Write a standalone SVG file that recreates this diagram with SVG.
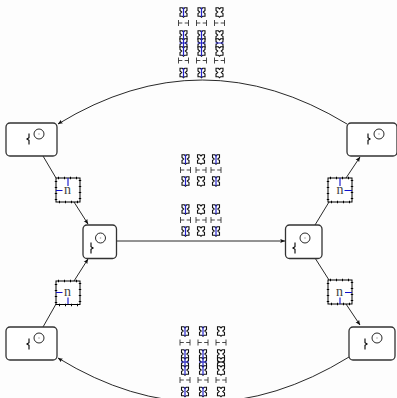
<svg xmlns="http://www.w3.org/2000/svg" width="397" height="398" viewBox="0 0 397 398">
<style>
.node{fill:#fff;stroke:#333;stroke-width:1.3}
.c{fill:#fff;stroke:#111;stroke-width:.9}
.d{fill:#aaa}
.g{fill:none;stroke:#000;stroke-width:1.100}
.e{fill:none;stroke:#111;stroke-width:.9}
.b{fill:#fff;stroke:#000;stroke-width:1}
.t{fill:none;stroke:#000;stroke-width:2.400;stroke-dasharray:1 5;stroke-dashoffset:-2}
.bl{fill:none;stroke:#11c;stroke-width:1.100}
.n{font:14px "Liberation Serif",serif;fill:#444;text-anchor:middle}
.i{fill:#fff;stroke:#111;stroke-width:1.100}
.v{fill:none;stroke:#22c;stroke-width:1.200}
.hg{fill:none;stroke:#333;stroke-width:.9}
</style>
<defs>
<marker id="a" viewBox="0 0 5 5" refX="4.800" refY="2.500" markerWidth="5" markerHeight="5" orient="auto" markerUnits="userSpaceOnUse"><path d="M0 .4L5 2.500L0 4.600L1 2.500z" fill="#111"/></marker>
<path id="ic" class="i" d="M-3.500-4.200H-1.200L0-3L1.200-4.200H3.500V-1.500L1.800 0L3.500 1.500V4.200H1.200L0 5.200L-1.200 4.200H-3.500V1.500L-1.800 0L-3.500-1.500z"/>
<g id="ib"><use href="#ic"/><path class="v" d="M0-4.500V5"/></g>
<path id="h" class="hg" d="M-5-3V3M5-3V3M-5 0H-1.200M1.200 0H5"/>
<path id="gl" class="g" d="M0-5.500V-1.200L-2 0L0 1.200V5.500"/>
<path id="gr" class="g" d="M0-5.500V-1.200L2 0L0 1.200V5.500"/>
<g id="sun"><circle class="c" r="5"/><circle class="d" r=".8"/></g>
<path id="nb" class="t" d="M0 0H24V24H0z"/>
</defs>
<rect width="397" height="398" fill="#fdfdfd"/>
<g id="connectors">
<path class="e" d="M43 156L56 178"/>
<path class="e" d="M74 202L88 224" marker-end="url(#a)"/>
<path class="e" d="M43 327L56 304"/>
<path class="e" d="M74 281L88 259" marker-end="url(#a)"/>
<path class="e" d="M116.500 241H285" marker-end="url(#a)"/>
<path class="e" d="M315 225L329 202"/>
<path class="e" d="M346 178L360 157" marker-end="url(#a)"/>
<path class="e" d="M315 258L329 280"/>
<path class="e" d="M346 304L360 325" marker-end="url(#a)"/>
<path class="e" d="M347 124Q202 36 58 124" marker-end="url(#a)"/>
<path class="e" d="M349 357Q203 447 58 358" marker-end="url(#a)"/>
</g>
<g id="node-tl"><rect class="node" x="6" y="123" width="51" height="33" rx="4"/><use href="#sun" x="39" y="134"/><use href="#gl" x="29" y="139"/></g>
<g id="node-cl"><rect class="node" x="83" y="225" width="33.500" height="33.500" rx="4"/><use href="#sun" x="100.500" y="238"/><use href="#gr" x="91" y="248"/></g>
<g id="node-bl"><rect class="node" x="6" y="327" width="51" height="33" rx="4"/><use href="#sun" x="39" y="338"/><use href="#gl" x="29" y="344"/></g>
<g id="node-tr"><rect class="node" x="347" y="123" width="50" height="33" rx="4"/><use href="#sun" x="379" y="134"/><use href="#gr" x="368" y="139"/></g>
<g id="node-cr"><rect class="node" x="285.500" y="225" width="36.500" height="33.500" rx="4"/><use href="#sun" x="305" y="238"/><use href="#gl" x="295" y="248"/></g>
<g id="node-br"><rect class="node" x="349" y="327" width="46" height="33" rx="4"/><use href="#sun" x="377" y="338"/><use href="#gr" x="365" y="344"/></g>
<g id="box-tl"><rect class="b" x="56" y="178" width="24" height="24"/><use href="#nb" x="56" y="178"/><path class="bl" d="M68 178V186M56 190.500H62.500"/><text class="n" x="67.500" y="194">n</text></g>
<g id="box-bl"><rect class="b" x="56" y="281" width="24" height="23.500"/><use href="#nb" x="56" y="281"/><path class="bl" d="M68 297.500V304M56 292.500H62.500"/><text class="n" x="67.500" y="296">n</text></g>
<g id="box-tr"><rect class="b" x="328" y="178" width="24" height="24"/><use href="#nb" x="328" y="178"/><path class="bl" d="M340 178V186M344.500 190.500H352"/><text class="n" x="340" y="194">n</text></g>
<g id="box-br"><rect class="b" x="328" y="280" width="24" height="24"/><use href="#nb" x="328" y="280"/><path class="bl" d="M340 297.500V304M345 292.500H352"/><text class="n" x="339.500" y="296">n</text></g>
<g id="cluster-top">
<use href="#ib" x="183.500" y="12"/><use href="#ib" x="201.500" y="12"/><use href="#ic" x="219.500" y="12"/>
<use href="#h" x="183.500" y="23"/><use href="#h" x="201.500" y="23"/><use href="#h" x="219.500" y="23"/>
<use href="#ib" x="183.500" y="35"/><use href="#ib" x="201.500" y="35"/><use href="#ic" x="219.500" y="35"/>
<use href="#ib" x="183.500" y="43"/><use href="#ib" x="201.500" y="43"/><use href="#ic" x="219.500" y="43"/>
<use href="#ib" x="183.500" y="51"/><use href="#ib" x="201.500" y="51"/><use href="#ic" x="219.500" y="51"/>
<path class="v" d="M179.500 43H187.500M197.500 43H205.500M215.500 43H223.500"/>
<use href="#h" x="183.500" y="60.500"/><use href="#h" x="201.500" y="60.500"/><use href="#h" x="219.500" y="60.500"/>
<use href="#ib" x="183.500" y="72.500"/><use href="#ib" x="201.500" y="72.500"/><use href="#ic" x="219.500" y="72.500"/>
</g>
<g id="cluster-mid">
<use href="#ib" x="185.500" y="159"/><use href="#ic" x="201" y="159"/><use href="#ib" x="216" y="159"/>
<use href="#h" x="185.500" y="170"/><use href="#h" x="201" y="170"/><use href="#h" x="216" y="170"/>
<use href="#ib" x="185.500" y="181"/><use href="#ic" x="201" y="181"/><use href="#ib" x="216" y="181"/>
<use href="#ib" x="185.500" y="209"/><use href="#ic" x="201" y="209"/><use href="#ib" x="216" y="209"/>
<use href="#h" x="185.500" y="220"/><use href="#h" x="201" y="220"/><use href="#h" x="216" y="220"/>
<use href="#ib" x="185.500" y="231"/><use href="#ic" x="201" y="231"/><use href="#ib" x="216" y="231"/>
</g>
<g id="cluster-bottom">
<use href="#ib" x="185" y="331"/><use href="#ib" x="203" y="331"/><use href="#ic" x="221" y="331"/>
<use href="#h" x="185" y="342.500"/><use href="#h" x="203" y="342.500"/><use href="#h" x="221" y="342.500"/>
<use href="#ib" x="185" y="354"/><use href="#ib" x="203" y="354"/><use href="#ic" x="221" y="354"/>
<use href="#ib" x="185" y="362"/><use href="#ib" x="203" y="362"/><use href="#ic" x="221" y="362"/>
<use href="#ib" x="185" y="370"/><use href="#ib" x="203" y="370"/><use href="#ic" x="221" y="370"/>
<path class="v" d="M181 362H189M199 362H207"/><path class="g" d="M217 362H225"/>
<use href="#h" x="185" y="380"/><use href="#h" x="203" y="380"/><use href="#h" x="221" y="380"/>
<use href="#ib" x="185" y="391.500"/><use href="#ib" x="203" y="391.500"/><use href="#ic" x="221" y="391.500"/>
</g>
</svg>
